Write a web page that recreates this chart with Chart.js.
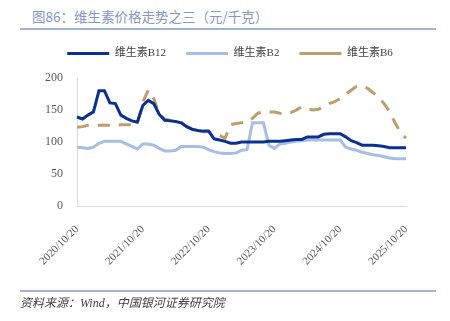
<!DOCTYPE html>
<html><head><meta charset="utf-8">
<script src="https://cdn.jsdelivr.net/npm/chart.js@4"></script>
<style>
html,body{margin:0;padding:0;background:#fff;}
#wrap{position:relative;width:450px;height:321px;overflow:hidden;}
#title{position:absolute;left:32px;top:7px;font:13.5px "Noto Sans CJK SC";color:#8497C6;white-space:nowrap;line-height:18px;}
#rule1{position:absolute;left:20px;top:28px;width:416px;height:1.5px;background:#A3B3D6;}
#rule2{position:absolute;left:20px;top:290px;width:416px;height:1.5px;background:#A3B3D6;}
#source{position:absolute;left:20px;top:295px;font:italic 12px "Liberation Serif","Noto Sans CJK SC";color:#404040;white-space:nowrap;line-height:16px;}
canvas{position:absolute;left:0;top:0;}
</style></head>
<body><div id="wrap">
<div id="title">图86：维生素价格走势之三（元/千克）</div>
<div id="rule1"></div>
<canvas id="c" width="450" height="321"></canvas>
<div id="rule2"></div>
<div id="source">资料来源：Wind，中国银河证券研究院</div>
</div>
<script>
const categories = [
'2020/10/20','2020/11/20','2020/12/20','2021/01/20','2021/02/20','2021/03/20','2021/04/20','2021/05/20','2021/06/20','2021/07/20','2021/08/20','2021/09/20',
'2021/10/20','2021/11/20','2021/12/20','2022/01/20','2022/02/20','2022/03/20','2022/04/20','2022/05/20','2022/06/20','2022/07/20','2022/08/20','2022/09/20',
'2022/10/20','2022/11/20','2022/12/20','2023/01/20','2023/02/20','2023/03/20','2023/04/20','2023/05/20','2023/06/20','2023/07/20','2023/08/20','2023/09/20',
'2023/10/20','2023/11/20','2023/12/20','2024/01/20','2024/02/20','2024/03/20','2024/04/20','2024/05/20','2024/06/20','2024/07/20','2024/08/20','2024/09/20',
'2024/10/20','2024/11/20','2024/12/20','2025/01/20','2025/02/20','2025/03/20','2025/04/20','2025/05/20','2025/06/20','2025/07/20','2025/08/20','2025/09/20',
'2025/10/20'];
const tickLabels = ['2020/10/20','2021/10/20','2022/10/20','2023/10/20','2024/10/20','2025/10/20'];
const seriesNames = ['维生素B12','维生素B2','维生素B6'];
const b12 = [139,136,142,147,180,180,161,160,142,137,133,131,157,165,160,143,134,133,132,130,124,120,118,117,117,105,103,101,98,98,100,100,100,100,100,101,101,101,102,103,104,104,108,108,108,112,113,113,113,108,102,99,95,95,95,94,93,91,91,91,91];
const b2 = [92,91,90,92,98,101,101,101,101,97,93,89,97,97,95,90,86,86,87,93,93,93,93,92,88,85,83,82,82,83,87,88,130,130,130,95,90,97,98,100,101,102,103,103,103,103,103,103,103,92,89,87,84,82,80,79,77,75,74,74,74];
const b6 = [123,124,126,126,126,126,126,126,127,127,127,128,162,181,168,143,136,134,133,131,124,120,117,116,116,112,110,106,127,129,130,131,137,145,147,147,147,145,144,146,150,155,152,150,151,155,160,163,168,175,181,187,187,184,177,170,160,148,130,115,106];
const yTicks = [0,50,100,150,200];

const serif = '"Liberation Serif","Noto Sans CJK SC"';
const legendTweak = {
  id: 'legendTweak',
  afterInit(chart) {
    const lg = chart.legend;
    const fit = lg.fit;
    lg.fit = function() { fit.call(this); this.height += 9; };
  },
  afterLayout(chart) {
    const lg = chart.legend;
    lg.left += 27; lg.right += 27;
  }
};
new Chart(document.getElementById('c'), {
  type: 'line',
  data: {
    labels: categories,
    datasets: [
      {label: seriesNames[0], data: b12, borderColor: '#0A318F', backgroundColor: '#0A318F', borderWidth: 3, pointRadius: 0, tension: 0},
      {label: seriesNames[1], data: b2, borderColor: '#A6BDE6', backgroundColor: '#A6BDE6', borderWidth: 3, pointRadius: 0, tension: 0},
      {label: seriesNames[2], data: b6, borderColor: '#BE9C6C', backgroundColor: '#BE9C6C', borderWidth: 3, borderDash: [12, 9], pointRadius: 0, tension: 0}
    ]
  },
  plugins: [legendTweak],
  options: {
    responsive: false, animation: false,
    layout: {padding: {left: 0, right: 44, top: 28, bottom: 0}},
    plugins: {
      legend: {position: 'top', labels: {usePointStyle: true, pointStyle: 'line', pointStyleWidth: 42, padding: 20, color: '#404040', font: {size: 11, family: serif}}},
      tooltip: {enabled: false}
    },
    scales: {
      x: {
        grid: {display: false, drawTicks: false},
        border: {color: '#D9D9D9', width: 1},
        ticks: {autoSkip: false, maxRotation: 45, minRotation: 45, padding: 17, color: '#595959', font: {size: 11, family: serif},
          callback: function(v, i) { const l = categories[i]; return tickLabels.includes(l) ? l : ''; }},
        afterFit: function(s) { s.height = 115; }
      },
      y: {
        min: 0, max: 200,
        grid: {display: false, drawTicks: false},
        border: {color: '#D9D9D9', width: 1},
        ticks: {stepSize: 50, padding: 14, color: '#595959', font: {size: 12, family: serif},
          callback: function(v) { return yTicks.includes(v) ? String(v) : ''; }},
        afterFit: function(s) { s.width = 77; }
      }
    }
  }
});
</script>
</body></html>
